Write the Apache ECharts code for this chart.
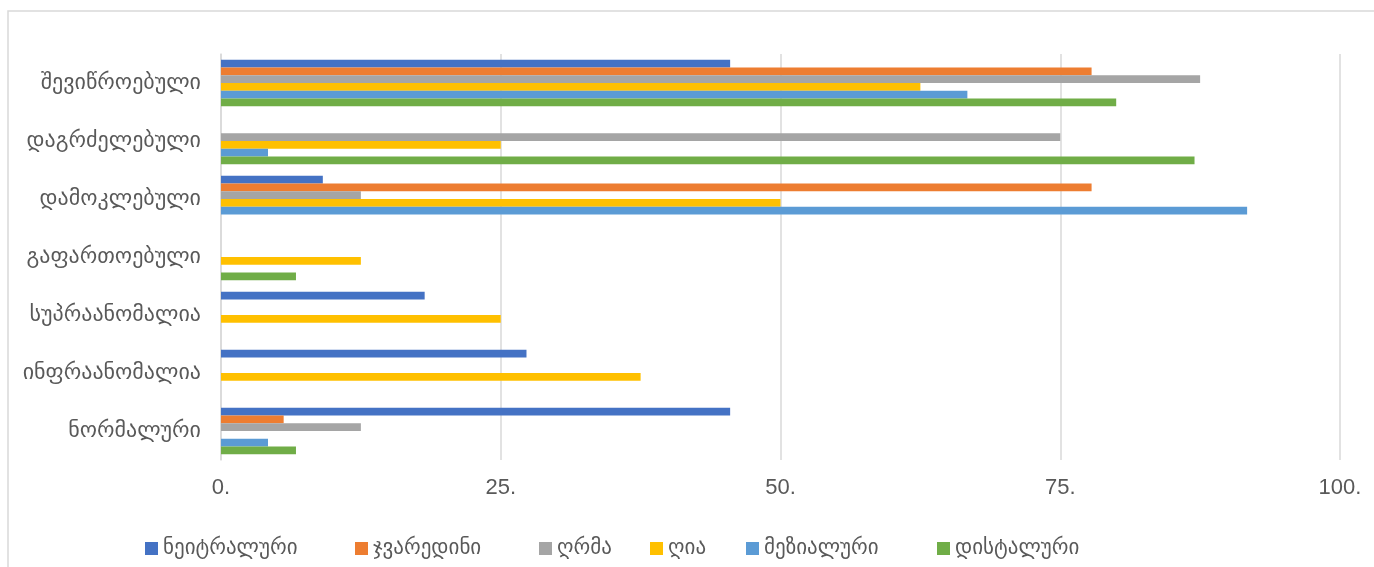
<!DOCTYPE html>
<html>
<head>
<meta charset="utf-8">
<script src="https://cdn.jsdelivr.net/npm/echarts@6/dist/echarts.min.js"></script>
<style>
html,body{margin:0;padding:0;background:#fff;}
#chart{width:1374px;height:567px;}
</style>
</head>
<body>
<div id="chart"></div>
<script>
// categories from bottom to top
var categories = ['ნორმალური', 'ინფრაანომალია', 'სუპრაანომალია', 'გაფართოებული', 'დამოკლებული', 'დაგრძელებული', 'შევიწროებული'];
var seriesNames = ['ნეიტრალური', 'ჯვარედინი', 'ღრმა', 'ღია', 'მეზიალური', 'დისტალური'];
var neutral   = [45.5, 27.3, 18.2, 0, 9.1, 0, 45.5];
var cross     = [5.6, 0, 0, 0, 77.8, 0, 77.8];
var deep      = [12.5, 0, 0, 0, 12.5, 75, 87.5];
var open      = [0, 37.5, 25, 12.5, 50, 25, 62.5];
var mesial    = [4.2, 0, 0, 0, 91.7, 4.2, 66.7];
var distal    = [6.7, 0, 0, 6.7, 0, 87, 80];
var xTicks    = [0, 25, 50, 75, 100];

var colors = ['#4472C4', '#ED7D31', '#A5A5A5', '#FFC000', '#5B9BD5', '#70AD47'];
var values = [neutral, cross, deep, open, mesial, distal];
var legendLeft = [140, 350, 534, 645, 741, 932];
var FONT = "'DejaVu Sans', 'Noto Sans', sans-serif";
var NUMFONT = "'Liberation Sans', Arial, sans-serif";

var chart = echarts.init(document.getElementById('chart'), null, {renderer: 'canvas'});
var series = seriesNames.map(function (n, i) {
  return {
    name: n, type: 'bar', data: values[i],
    itemStyle: {color: colors[i]},
    barGap: '0%', barCategoryGap: '20%',
    animation: false
  };
});
var legends = seriesNames.map(function (n, i) {
  return {
    data: [n], left: legendLeft[i], top: 533,
    itemWidth: 13, itemHeight: 13, icon: 'rect', itemGap: 6,
    textStyle: {color: '#595959', fontSize: 21, fontFamily: FONT}
  };
});
chart.setOption({
  animation: false,
  color: colors,
  grid: {left: 221, right: 34, top: 54, bottom: 107, containLabel: false},
  graphic: [{
    type: 'rect', shape: {x: 8, y: 11, width: 1380, height: 580},
    style: {fill: 'none', stroke: '#d9d9d9', lineWidth: 1.5}, silent: true
  }],
  legend: legends,
  xAxis: {
    type: 'value', min: xTicks[0], max: xTicks[xTicks.length - 1], interval: xTicks[1] - xTicks[0],
    axisLine: {show: false}, axisTick: {show: false},
    splitLine: {show: true, lineStyle: {color: '#d9d9d9', width: 1.5}},
    axisLabel: {color: '#595959', fontSize: 22, fontFamily: NUMFONT, margin: 17,
      formatter: function (v) { return v + '.'; }}
  },
  yAxis: {
    type: 'category', data: categories,
    axisLine: {show: true, lineStyle: {color: '#d9d9d9', width: 1.5}},
    axisTick: {show: false},
    axisLabel: {color: '#595959', fontSize: 22, fontFamily: FONT, margin: 20, padding: [10, 0, 0, 0]}
  },
  series: series
});
</script>
</body>
</html>
